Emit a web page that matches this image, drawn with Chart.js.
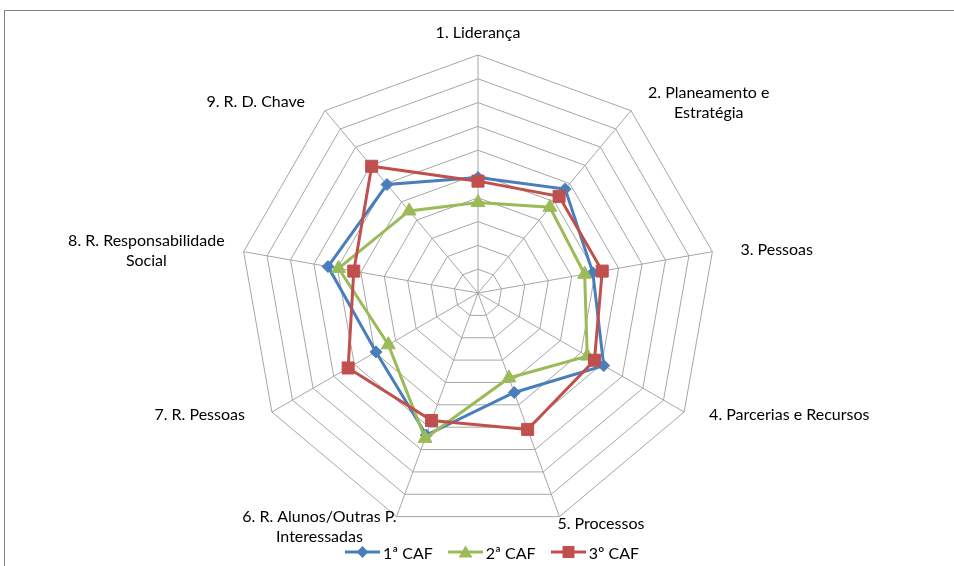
<!DOCTYPE html>
<html><head><meta charset="utf-8">
<script src="https://cdn.jsdelivr.net/npm/chart.js@4.4.1/dist/chart.umd.min.js"></script>
<style>
html,body{margin:0;padding:0;background:#fff;width:954px;height:566px;overflow:hidden;font-family:Lato,sans-serif}
#frame{position:absolute;left:4px;top:10px;width:1000px;height:1000px;border-top:1px solid #868686;border-left:1px solid #868686}
#wrap{position:absolute;left:0;top:0;width:954px;height:566px}
#legend{position:absolute;left:345px;top:542px;height:20px;display:flex;align-items:center;font-size:16px;color:#000}
.item{display:flex;align-items:center;margin-right:15px}
.item svg{margin-right:3px}
</style></head><body>
<div id="frame"></div>
<div id="wrap"><canvas id="c" width="954" height="566"></canvas></div>
<div id="legend"></div>
<script>
// ---- data ----
const categories = [
  "1. Liderança",
  ["2. Planeamento e", "Estratégia"],
  "3. Pessoas",
  "4. Parcerias e Recursos",
  "5. Processos",
  ["6. R. Alunos/Outras P.", "Interessadas"],
  "7. R. Pessoas",
  ["8. R. Responsabilidade", "Social"],
  "9. R. D. Chave"
];
const seriesNames = ["1ª CAF", "2ª CAF", "3º CAF"];
const caf1 = [4.85, 5.7, 4.9, 6.1, 4.45, 6.35, 4.95, 6.4, 5.95];
const caf2 = [3.8, 4.7, 4.55, 5.3, 3.8, 6.5, 4.35, 5.95, 4.5];
const caf3 = [4.7, 5.3, 5.3, 5.65, 6.1, 5.7, 6.3, 5.3, 6.95];
const scaleMax = 10;
const scaleStep = 1;

// ---- layout / style ----
const colors = ["#4A7EBB", "#9BBB59", "#C0504D"];
const styles = ["rectRot", "triangle", "rect"];
const radii = [6, 8, 8.5];
const labelPlacement = [
  {align: "center", dx: 0, dy: -22},
  {align: "left", dx: 17, dy: -8},
  {align: "left", dx: 28, dy: -2},
  {align: "left", dx: 25, dy: 3},
  {align: "left", dx: -2, dy: 7},
  {align: "right", dx: 0, dy: 10},
  {align: "right", dx: -27, dy: 3},
  {align: "right", dx: -19, dy: -1},
  {align: "right", dx: -20, dy: -9}
];
const labelFont = "16px Lato";
const lineH = 20;

const pointLabelPlugin = {
  id: "pointLabelPlugin",
  afterDraw(chart) {
    const s = chart.scales.r;
    const ctx = chart.ctx;
    ctx.save();
    ctx.font = labelFont;
    ctx.fillStyle = "#000";
    ctx.textAlign = "center";
    ctx.textBaseline = "middle";
    categories.forEach((lab, i) => {
      const lines = Array.isArray(lab) ? lab : [lab];
      const bw = Math.max(...lines.map(l => ctx.measureText(l).width));
      const bh = lines.length * lineH;
      const p = s.getPointPosition(i, s.drawingArea);
      const pl = labelPlacement[i];
      const ax = p.x + pl.dx, ay = p.y + pl.dy;
      const left = pl.align === "left" ? ax : pl.align === "right" ? ax - bw : ax - bw / 2;
      const top = ay - bh / 2;
      lines.forEach((l, j) => ctx.fillText(l, left + bw / 2, top + lineH * j + lineH / 2));
    });
    ctx.restore();
  }
};

const allSeries = [caf1, caf2, caf3];
const datasets = allSeries.map((d, k) => ({
  label: seriesNames[k],
  data: d,
  borderColor: colors[k],
  backgroundColor: colors[k],
  pointBackgroundColor: colors[k],
  pointBorderColor: colors[k],
  pointBorderWidth: 1,
  pointStyle: styles[k],
  pointRadius: radii[k],
  borderWidth: 3,
  fill: false,
  order: 2 - k
}));

new Chart(document.getElementById("c"), {
  type: "radar",
  data: {labels: categories, datasets},
  options: {
    responsive: false,
    animation: false,
    layout: {padding: {left: 240, top: 55, right: 238, bottom: 35}},
    plugins: {legend: {display: false}, tooltip: {enabled: false}},
    elements: {line: {tension: 0}},
    scales: {
      r: {
        min: 0, max: scaleMax,
        ticks: {display: false, stepSize: scaleStep},
        grid: {color: "#a6a6a6", lineWidth: 1},
        angleLines: {color: "#a6a6a6", lineWidth: 1},
        pointLabels: {display: false}
      }
    }
  },
  plugins: [pointLabelPlugin]
});

// legend
const legend = document.getElementById("legend");
const marker = [
  '<polygon points="11.5,7 17.5,1 23.5,7 17.5,13" />',
  '<polygon points="17.5,0.5 24.5,12.5 10.5,12.5" />',
  '<rect x="11.5" y="1" width="12" height="12" />'
];
seriesNames.forEach((n, k) => {
  const it = document.createElement("div");
  it.className = "item";
  it.innerHTML = '<svg width="35" height="14" viewBox="0 0 35 14"><line x1="0" y1="7" x2="35" y2="7" stroke="' + colors[k] + '" stroke-width="3"/><g fill="' + colors[k] + '">' + marker[k] + '</g></svg><span>' + n + '</span>';
  legend.appendChild(it);
});
</script>
</body></html>
